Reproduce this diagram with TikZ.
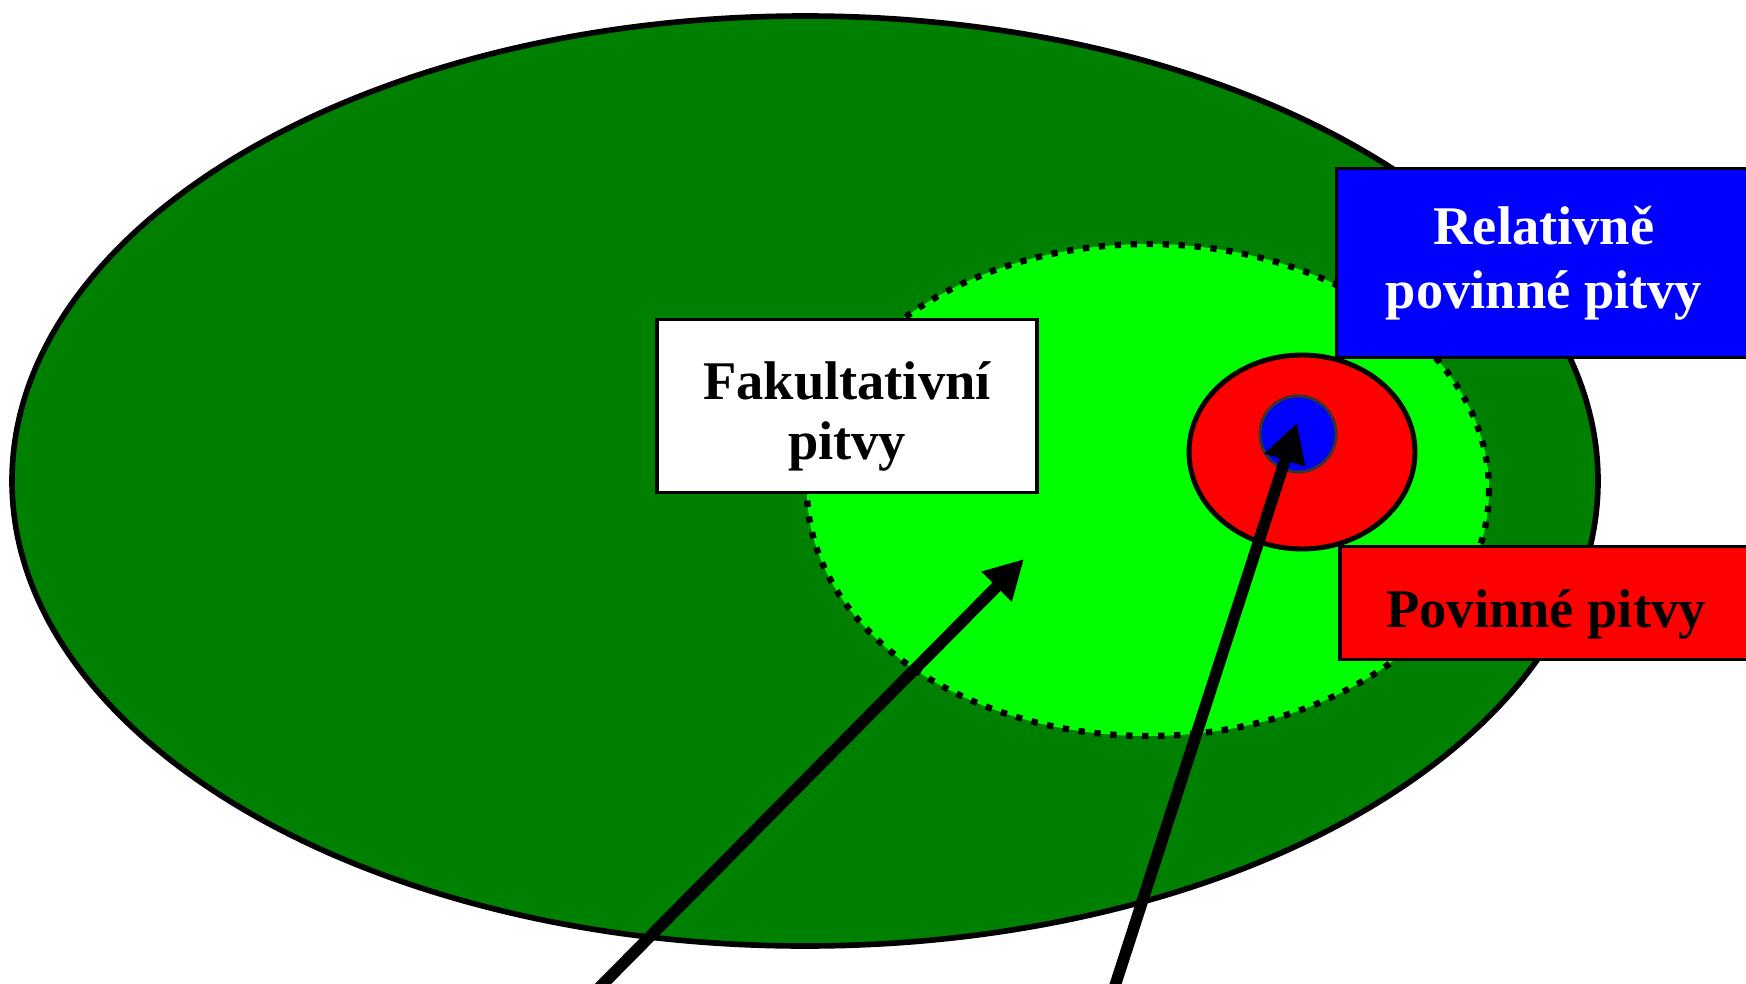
\documentclass[tikz,border=0pt]{standalone}
\usepackage{fontspec}
\setmainfont{Liberation Serif}
\usetikzlibrary{arrows.meta}
\definecolor{darkgreen}{RGB}{0,128,0}
\definecolor{lightgreen}{RGB}{0,255,0}
\definecolor{pureblue}{RGB}{0,0,255}
\definecolor{purered}{RGB}{255,0,0}
\tikzset{
  labelbox/.style={draw=black, line width=2pt, inner sep=0pt, align=center},
  pointer/.style={line width=6.6pt, -{Triangle[length=0.78cm,width=0.8cm]}},
}
\begin{document}
\begin{tikzpicture}[x=0.02cm,y=-0.02cm]
\useasboundingbox (0,0) rectangle (1746,983);
% regions
\filldraw[fill=darkgreen, draw=black, line width=3.2pt] (805,481) ellipse [x radius=793, y radius=465];
\fill[lightgreen] (1148,490) ellipse [x radius=341, y radius=246];
\draw[line width=3.6pt, dash pattern=on 3.6pt off 5.5pt] (1148,490) ellipse [x radius=341, y radius=246];
\node[labelbox, fill=white, minimum width=7.6cm, minimum height=3.46cm,
  font=\fontsize{31}{34.2}\selectfont\bfseries] (fakult) at (847,406) {\rule{0pt}{33pt}Fakultativní\\pitvy};
\filldraw[fill=purered, draw=black, line width=2.8pt] (1302,452) ellipse [x radius=113, y radius=97];
\filldraw[fill=pureblue, draw=black!80, line width=1.7pt] (1298,434) circle (38);
% boxes on the right
\node[labelbox, fill=pureblue, text=white, minimum width=8.3cm, minimum height=3.78cm,
  font=\fontsize{31}{36.4}\selectfont\bfseries] (relat) at (1544,263) {Relativně\\povinné pitvy};
\node[labelbox, fill=purered, minimum width=8.24cm, minimum height=2.26cm,
  font=\fontsize{31}{36}\selectfont\bfseries] (povin) at (1546,603) {\rule{0pt}{35pt}Povinné pitvy};
% arrows
\coordinate (facTail) at (592,995);
\coordinate (facHead) at (1024,559);
\coordinate (povTail) at (1112,995);
\coordinate (povHead) at (1297,423);
\draw[pointer] (facTail) -- (facHead);
\draw[pointer] (povTail) -- (povHead);
\end{tikzpicture}
\end{document}
